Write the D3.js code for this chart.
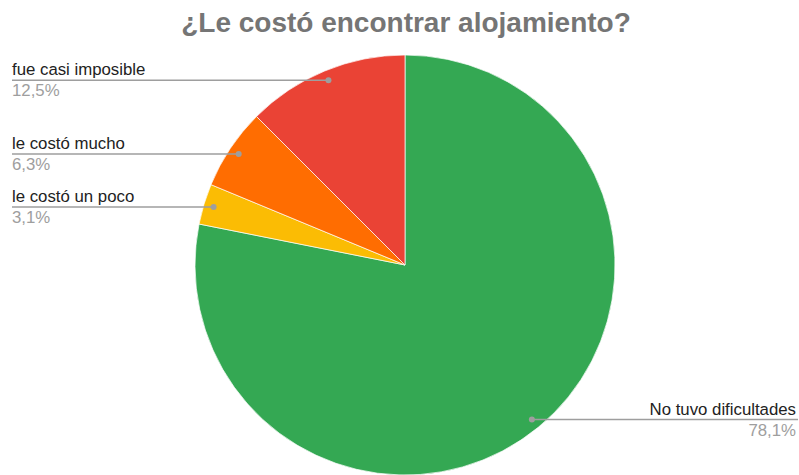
<!DOCTYPE html>
<html>
<head>
<meta charset="utf-8">
<script src="https://cdn.jsdelivr.net/npm/d3@7"></script>
<style>
    body { margin: 0; background: #fff; }
    svg { display: block; font-family: Arial, "Liberation Sans", sans-serif; }
</style>
</head>
<body>
<svg id="chart" width="799" height="475"></svg>
<script>
    'use strict';

    var title = '¿Le costó encontrar alojamiento?';

    var categories = ['No tuvo dificultades', 'le costó un poco', 'le costó mucho', 'fue casi imposible'];
    var counts = [25, 1, 2, 4];
    var colors = ['#34a853', '#fbbc04', '#ff6d01', '#ea4335'];

    var W = 799, H = 475,
        cx = 405, cy = 265, R = 210, dotR = 200;

    var svg = d3.select('#chart');

    svg.append('text')
        .attr('x', 406)
        .attr('y', 32)
        .attr('text-anchor', 'middle')
        .style('font-size', '28px')
        .style('font-weight', 'bold')
        .style('fill', '#757575')
        .text(title);

    var data = categories.map(function(d, i) {
        return { name: d, value: counts[i], color: colors[i] };
    });
    var total = d3.sum(counts);

    var pie = d3.pie()
        .sort(null)
        .value(function(d) { return d.value; });

    var arc = d3.arc().innerRadius(0).outerRadius(R);
    var dotArc = d3.arc().innerRadius(dotR).outerRadius(dotR);

    var g = svg.append('g')
        .attr('transform', 'translate(' + [cx, cy] + ')');

    var arcs = pie(data);

    g.selectAll('path.slice')
        .data(arcs).enter()
            .append('path')
            .attr('class', 'slice')
            .attr('d', arc)
            .style('fill', function(d) { return d.data.color; })
            .style('stroke', '#fff')
            .style('stroke-width', 0.7);

    var fmt = function(v) {
        return (Math.round(v / total * 1000) / 10).toFixed(1).replace('.', ',') + '%';
    };

    /* labels: left side start at x=12, right side end at x=797 */
    var labels = svg.append('g').attr('class', 'labels');

    arcs.forEach(function(d) {
        var p = dotArc.centroid(d),
            px = cx + p[0], py = cy + p[1],
            right = px > cx,
            x0 = right ? W - 1 : 12,
            anchor = right ? 'end' : 'start';

        labels.append('line')
            .attr('x1', px).attr('y1', py)
            .attr('x2', x0).attr('y2', py)
            .style('stroke', '#9e9e9e')
            .style('stroke-width', 1.5);

        labels.append('circle')
            .attr('cx', px).attr('cy', py)
            .attr('r', 3)
            .style('fill', '#9e9e9e');

        labels.append('text')
            .attr('x', right ? x0 - 2 : x0)
            .attr('y', py - 5)
            .attr('text-anchor', anchor)
            .style('font-size', '16.8px')
            .style('fill', '#222')
            .text(d.data.name);

        labels.append('text')
            .attr('x', right ? x0 - 2 : x0)
            .attr('y', py + 16)
            .attr('text-anchor', anchor)
            .style('font-size', '16.8px')
            .style('fill', '#9e9e9e')
            .text(fmt(d.data.value));
    });
</script>
</body>
</html>
